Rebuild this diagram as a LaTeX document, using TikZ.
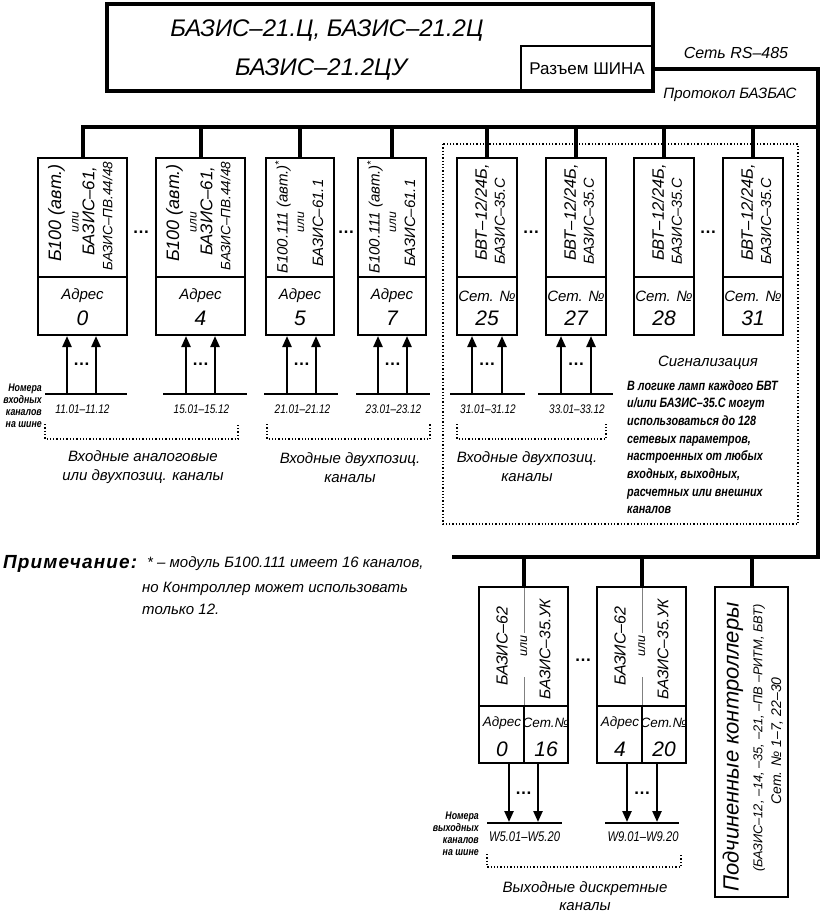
\documentclass[tikz,border=0pt]{standalone}
\usepackage{fontspec}
\setmainfont{Liberation Sans}
\newfontfamily\gostn[FakeStretch=0.8]{Liberation Sans}
\usetikzlibrary{arrows.meta}
\newcommand\fsz[2]{\fontsize{#1}{#2}\selectfont}
\begin{document}
\begin{tikzpicture}[x=1pt,y=-1pt,line join=miter,
 box/.style={draw,line width=2pt,inner sep=0pt,outer sep=0pt},
 bus/.style={line width=4pt},
 arr/.style={line width=2.3pt,-{Triangle[length=11pt,width=9pt]}},
 chl/.style={line width=2.5pt},
 dotb/.style={line width=1.3pt,dotted},
 rt/.style={rotate=90,inner sep=0pt},
 tx/.style={inner sep=0pt,align=center},
 dots/.style={inner sep=0pt,font=\bfseries\fsz{17}{17}},
]
\useasboundingbox (0,0) rectangle (822,913);
% title
\node[box,line width=3.5pt,minimum width=546pt,minimum height=87pt] (title) at (380,47.5) {};
\node[box,minimum width=132pt,minimum height=45pt,anchor=south east,font=\fsz{17}{17}] (razem) at (title.south east) {Разъем ШИНА};
\node[tx,font=\itshape\fsz{24}{24}] (tt1) at (327,31) {БАЗИС–21.Ц, БАЗИС–21.2Ц};
\node[tx,font=\itshape\fsz{24}{24}] (tt2) at (321,70) {БАЗИС–21.2ЦУ};
\node[tx,font=\itshape\fsz{16}{16}] (net) at (736,53) {Сеть RS–485};
\node[tx,font=\itshape\fsz{15}{15}] (prot) at (730,95) {Протокол БАЗБАС};
% dotted group box
\draw[dotb] (443,144) rectangle (798,524);
% top row boxes
\foreach \n/\l/\r in {1/38/127,2/156/245,3/266/334,4/358/426,5/457/517,6/546/606,7/634/694,8/723/783}{
 \node[box,minimum width={(\r-\l)*1pt},minimum height=119pt] (u\n) at ({(\l+\r)/2},217.5) {};
 \node[box,minimum width={(\r-\l)*1pt},minimum height=58pt] (l\n) at ({(\l+\r)/2},306) {};
}
% buses
\coordinate (cR) at (818,68.5);
\coordinate (cB) at (818,557);
\coordinate (cL) at (452,557);
\coordinate (cT) at (818,127);
\draw[bus] (razem.east) -- (cR) -- (cB) -- (cL);
\draw[bus] (cT) -- (u1.north |- cT) -- (u1.north);
\foreach \n in {2,...,8} \draw[bus] (u\n.north) -- (u\n.north |- cT);
% texts boxes 1,2
\foreach \n/\c/\a in {1/82.5/0,2/200.5/4}{
 \node[rt,font=\itshape\fsz{18}{18}] (ta\n) at (\c-26,213) {Б100 (авт.)};
 \node[rt,font=\itshape\fsz{12}{12}] (tb\n) at (\c-7,222) {или};
 \node[rt,font=\itshape\fsz{17}{17}] (tc\n) at (\c+7,211) {БАЗИС–61,};
 \node[rt,font=\itshape\fsz{13.5}{13.5}] (td\n) at (\c+25,216) {БАЗИС–ПВ.44/48};
 \node[tx,font=\itshape\fsz{15}{15}] (tr\n) at (\c,296) {Адрес};
 \node[tx,font=\itshape\fsz{21}{21}] (tn\n) at (\c,318) {\a};
}
% texts boxes 3,4
\foreach \n/\c/\a in {3/300/5,4/392/7}{
 \node[rt,font=\itshape\fsz{15}{15}] (ta\n) at (\c-17,217) {Б100.111 (авт.)\textsuperscript{*}};
 \node[rt,font=\itshape\fsz{12}{12}] (tb\n) at (\c+1,222) {или};
 \node[rt,font=\itshape\fsz{15}{15}] (tc\n) at (\c+18,223) {БАЗИС–61.1};
 \node[tx,font=\itshape\fsz{15}{15}] (tr\n) at (\c,296) {Адрес};
 \node[tx,font=\itshape\fsz{21}{21}] (tn\n) at (\c,318) {\a};
}
% texts boxes 5-8
\foreach \n/\c/\a in {5/487/25,6/576/27,7/664/28,8/753/31}{
 \node[rt,font=\itshape\fsz{16.5}{16.5}] (ta\n) at (\c-5,212.5) {БВТ–12/24Б,};
 \node[rt,font=\itshape\fsz{14.5}{14.5}] (tc\n) at (\c+13,221) {БАЗИС–35.С};
 \node[tx,font=\itshape\fsz{15}{15}] (tr\n) at (\c,296) {Сет. №};
 \node[tx,font=\itshape\fsz{21}{21}] (tn\n) at (\c,318) {\a};
}
% dots between boxes
\node[dots] (d12) at (141,232) {…};
\node[dots] (d34) at (346,232) {…};
\node[dots] (d56) at (531,232) {…};
\node[dots] (d78) at (708,232) {…};
% input channels
\foreach \n/\p/\q/\a/\b/\t in {1/45/127/67/96/11.01–11.12,2/163/247/186/215/15.01–15.12,3/264/338/287/316/21.01–21.12,4/356/430/378/407/23.01–23.12,5/450/525/472/502/31.01–31.12,6/538/613/561/591/33.01–33.12}{
 \coordinate (iL\n) at (\p,394);
 \coordinate (iR\n) at (\q,394);
 \draw[chl] (iL\n) -- (iR\n);
 \draw[arr] (\a,394) -- (\a,336);
 \draw[arr] (\b,394) -- (\b,336);
 \node[dots] (id\n) at ({(\a+\b)/2},364) {…};
 \node[tx,font=\gostn\itshape\fsz{12.5}{12.5}] (il\n) at ({(\a+\b)/2+1},409) {\t};
}
% brackets
\draw[dotb] (45,424) -- (45,439) -- (238,439) -- (238,424);
\draw[dotb] (267,424) -- (267,439) -- (430,439) -- (430,424);
\draw[dotb] (457,424) -- (457,439) -- (606,439) -- (606,424);
\node[tx,font=\itshape\fsz{15}{19}] (g1) at (143,467.5) {Входные аналоговые\\или двухпозиц. каналы};
\node[tx,font=\itshape\fsz{15}{19}] (g2) at (350,467.5) {Входные двухпозиц.\\каналы};
\node[tx,font=\itshape\fsz{15}{19}] (g3) at (527,467) {Входные двухпозиц.\\каналы};
% left label inputs
\foreach \t [count=\i] in {Номера,входных,каналов,на шине}
 \node[anchor=base east,inner sep=0pt,font=\gostn\bfseries\itshape\fsz{11}{11}] (ln\i) at (42,{391+(\i-1)*12.3}) {\t};
% signalling
\node[tx,font=\itshape\fsz{15}{15}] (sigt) at (708,363) {Сигнализация};
\foreach \t [count=\i] in {{В логике ламп каждого БВТ},{и/или БАЗИС–35.С могут},{использоваться до 128},{сетевых параметров,},{настроенных от любых},{входных, выходных,},{расчетных или внешних},{каналов}}
 \node[anchor=base west,inner sep=0pt,font=\gostn\bfseries\itshape\fsz{13.5}{13.5}] (sg\i) at (627,{390+(\i-1)*17.7}) {\t};
% note
\node[anchor=base west,inner sep=0pt,font=\bfseries\itshape\fsz{19}{19}\addfontfeature{LetterSpace=6}] (nt0) at (3,568) {Примечание:};
\node[anchor=base west,inner sep=0pt,font=\itshape\fsz{15}{15}] (nt1) at (147,567) {* – модуль Б100.111 имеет 16 каналов,};
\node[anchor=base west,inner sep=0pt,font=\itshape\fsz{15}{15}] (nt2) at (142,592) {но Контроллер может использовать};
\node[anchor=base west,inner sep=0pt,font=\itshape\fsz{15}{15}] (nt3) at (142,614) {только 12.};
% lower boxes
\foreach \n/\l/\r/\m/\a/\s in {A/479/568/524/0/16,B/597/686/642/4/20}{
 \node[box,minimum width={(\r-\l)*1pt},minimum height=119pt] (u\n) at ({(\l+\r)/2},646.5) {};
 \node[box,minimum width={(\r-\l)*1pt},minimum height=57pt] (l\n) at ({(\l+\r)/2},734.5) {};
 \draw[bus] (u\n.north) -- (u\n.north |- cB);
 \draw[gray,line width=0.9pt] (\m,588) -- (\m,633);
 \draw[gray,line width=0.9pt] (\m,677) -- (\m,705);
 \draw[line width=1.5pt] (l\n.north -| \m,0) -- (l\n.south -| \m,0);
 \node[rt,font=\itshape\fsz{16}{16}] (va\n) at (\l+23,646) {БАЗИС–62};
 \node[rt,font=\itshape\fsz{12.5}{12.5}] (vb\n) at (\m,646) {или};
 \node[rt,font=\itshape\fsz{15.5}{15.5}] (vc\n) at (\l+66,649) {БАЗИС–35.УК};
 \node[tx,font=\itshape\fsz{13.5}{13.5}] (vr\n) at (\l+23,723) {Адрес};
 \node[tx,font=\itshape\fsz{21}{21}] (vn\n) at (\l+23,749) {\a};
 \node[tx,font=\itshape\fsz{13.5}{13.5}] (vs\n) at (\l+67,723) {Сет.№};
 \node[tx,font=\itshape\fsz{21}{21}] (vm\n) at (\l+67,749) {\s};
}
\node[dots] (dAB) at (583,660) {…};
% controller box
\node[box,minimum width=73pt,minimum height=310pt] (ctrl) at (751.5,742) {};
\draw[bus] (ctrl.north) -- (ctrl.north |- cB);
\node[rt,font=\itshape\fsz{22}{22}] (c1) at (733,747) {Подчиненные контроллеры};
\node[rt,font=\itshape\fsz{12.8}{12.8}] (c2) at (759,738) {(БАЗИС–12, –14, –35, –21, –ПВ –РИТМ, БВТ)};
\node[rt,font=\itshape\fsz{14}{14}] (c3) at (777,741) {Сет. № 1–7, 22–30};
% output channels
\foreach \n/\p/\q/\a/\b/\t in {A/487/562/509/538/W5.01–W5.20,B/605/679/627/657/W9.01–W9.20}{
 \coordinate (oL\n) at (\p,823);
 \coordinate (oR\n) at (\q,823);
 \draw[chl] (oL\n) -- (oR\n);
 \draw[arr] (\a,764) -- (\a,822);
 \draw[arr] (\b,764) -- (\b,822);
 \node[dots] (od\n) at ({(\a+\b)/2},793) {…};
 \node[tx,font=\gostn\itshape\fsz{14}{14}] (ol\n) at ({(\a+\b)/2+1},837) {\t};
}
\draw[dotb] (487,854) -- (487,867) -- (681,867) -- (681,854);
\node[tx,font=\itshape\fsz{15}{18}] (g4) at (585,896) {Выходные дискретные\\каналы};
\foreach \t [count=\i] in {Номера,выходных,каналов,на шине}
 \node[anchor=base east,inner sep=0pt,font=\gostn\bfseries\itshape\fsz{11}{11}] (lo\i) at (479,{819+(\i-1)*12.3}) {\t};
\end{tikzpicture}
\end{document}
